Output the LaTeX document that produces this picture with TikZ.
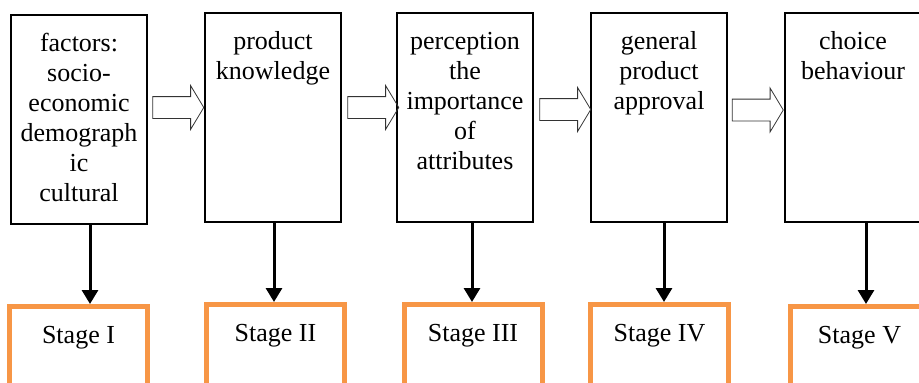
\documentclass[tikz,border=0pt]{standalone}
\usepackage{fontspec}
\setmainfont{Liberation Serif}
\newfontfamily\boxfont{Liberation Serif}
\usetikzlibrary{calc,shapes.arrows,arrows.meta}
\definecolor{stageorange}{RGB}{247,150,70}
\tikzstyle{square} = [rectangle, draw, line width=1.8pt, text width=126pt, inner xsep=5pt, inner ysep=18pt, text height=18pt, text depth=155pt, font=\boxfont\fontsize{26pt}{30pt}\selectfont]
\tikzstyle{stage} = [rectangle, draw=stageorange, line width=5pt, minimum width=138pt, inner ysep=19pt, text height=18pt, text depth=70pt, font=\boxfont\fontsize{26pt}{30pt}\selectfont]
\tikzstyle{arrow} = [line width=3pt, -{Triangle[length=14pt,width=16pt]}]
\tikzstyle{hollow} = [single arrow, draw=black!80, line width=0.8pt, inner sep=10.5pt, single arrow head extend=11pt, single arrow tip angle=118, minimum height=51pt]

\begin{document}
\begin{tikzpicture}[node distance=194pt]
            \useasboundingbox (0,0) rectangle (919pt,-383pt);
            \clip (0,0) rectangle (919pt,-383pt);
            \node (b1) [square, align=center] at (79pt,-119.5pt) {
                factors:\\
                socio-\\
                economic\\
                demograph\\
                ic\\
                cultural
            };
            \node (b2) [square, align=center, right of = b1, yshift=2pt] {
                product\\
                knowledge
            };
            \node (b3) [square, align=center, right of = b2, xshift=-2pt] {
                perception\\
                the\\
                importance\\
                of\\
                attributes
            };
            \node (b4) [square, align=center, right of = b3] {
                general\\
                product\\
                approval
            };
            \node (b5) [square, align=center, right of = b4] {
                choice\\
                behaviour
            };
            \node (s1) [stage, below of = b1, yshift=-56pt, xshift=-0.5pt] {Stage I};
            \node (s2) [stage, below of = b2, yshift=-56pt, xshift=2.5pt] {Stage II};
            \node (s3) [stage, below of = b3, yshift=-56pt, xshift=8pt] {Stage III};
            \node (s4) [stage, below of = b4, yshift=-56pt, xshift=0.5pt] {Stage IV};
            \node (s5) [stage, below of = b5, yshift=-58pt, xshift=6.5pt] {Stage V};
            \node (h1) [hollow] at ($(b1.east)!0.5!(b2.west)+(-1pt,11pt)$) {};
            \node (h2) [hollow] at ($(b2.east)!0.5!(b3.west)+(1pt,10pt)$) {};
            \node (h3) [hollow] at ($(b3.east)!0.5!(b4.west)+(0,8pt)$) {};
            \node (h4) [hollow] at ($(b4.east)!0.5!(b5.west)+(-1.5pt,7.5pt)$) {};
            \draw [arrow] ($(b1.south)+(11pt,0)$) -- ($(s1.north)+(11.5pt,0)$);
            \draw [arrow] ($(b2.south)+(1pt,0)$) -- ($(s2.north)+(-1.5pt,0)$);
            \draw [arrow] ($(b3.south)+(7pt,0)$) -- ($(s3.north)+(-1pt,0)$);
            \draw [arrow] ($(b4.south)+(5pt,0)$) -- ($(s4.north)+(4.5pt,0)$);
            \draw [arrow] ($(b5.south)+(13pt,0)$) -- ($(s5.north)+(6.5pt,0)$);
        \end{tikzpicture}
\end{document}
